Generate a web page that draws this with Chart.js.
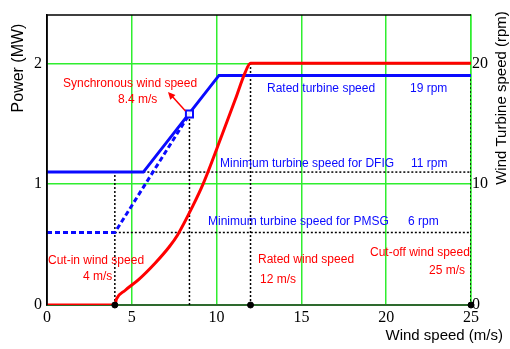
<!DOCTYPE html>
<html>
<head>
<meta charset="utf-8">
<script src="https://cdn.jsdelivr.net/npm/chart.js@4/dist/chart.umd.min.js"></script>
<style>
html,body{margin:0;padding:0;background:#fff;}
#wrap{width:510px;height:349px;position:relative;}
</style>
</head>
<body>
<div id="wrap"><canvas id="c" width="510" height="349"></canvas></div>
<script>
// ---- data ----
const xTicks = [0, 5, 10, 15, 20, 25];
const powerTicks = [0, 1, 2];
const rpmTicks = [0, 10, 20];

// Power curve (MW) vs wind speed (m/s)
const powerWind = [0, 4, 4.1, 4.6, 5.4, 6.4, 7.2, 7.7, 8.6, 9.2, 10.3, 11.1, 11.7, 12, 25];
const powerMW   = [0, 0, 0.05, 0.12, 0.21, 0.35, 0.48, 0.58, 0.82, 1.0, 1.40, 1.70, 1.93, 2.0, 2.0];

// DFIG turbine speed (rpm)
const dfigWind = [0, 5.68, 10.14, 25];
const dfigRpm  = [11, 11, 19, 19];

// PMSG turbine speed (rpm), dashed part
const pmsgWind = [0, 4, 8.4];
const pmsgRpm  = [6, 6, 15.8];

// Synchronous point
const syncWind = [8.4];
const syncRpm  = [15.8];

// Characteristic wind speeds (markers on the axis)
const keyWind = [4, 12, 25];
const keyPower = [0, 0, 0];

// Dotted guide lines
const guideCutInX = [4, 4],      guideCutInRpm = [0, 11];
const guideSyncX = [8.4, 8.4],   guideSyncRpm = [0, 15.8];
const guideRatedX = [12, 12],    guideRatedMW = [0, 2];
const guideCutOffX = [25, 25],   guideCutOffRpm = [0, 19];
const guideDfigX = [5.68, 25],   guideDfigRpm = [11, 11];
const guidePmsgX = [4, 25],      guidePmsgRpm = [6, 6];

const pts = (xs, ys) => xs.map((x, i) => ({x: x, y: ys[i]}));

const RED = '#ff0000', BLUE = '#0a0aff', GREEN = '#2fee2f', DKGREEN = '#2e6a2e';

function dotted(xs, ys, axis) {
  return {data: pts(xs, ys), yAxisID: axis, showLine: true, borderColor: '#000',
          borderWidth: 1.5, borderDash: [2, 2], pointRadius: 0, order: 6};
}

const annotate = {
  id: 'annotate',
  afterDatasetsDraw(chart) {
    const ctx = chart.ctx, a = chart.chartArea;
    ctx.save();
    // plot border top & left
    ctx.strokeStyle = '#000'; ctx.lineWidth = 1.5;
    ctx.beginPath();
    ctx.moveTo(a.left, a.bottom); ctx.lineTo(a.left, a.top); ctx.lineTo(a.right, a.top);
    ctx.stroke();

    // arrow from synchronous point to its label
    const xs = chart.scales.x, yr = chart.scales.y2;
    const px = xs.getPixelForValue(syncWind[0]), py = yr.getPixelForValue(syncRpm[0]);
    const sx = px - 4, sy = py - 3, ex = 168, ey = 92;
    ctx.strokeStyle = RED; ctx.fillStyle = RED; ctx.lineWidth = 1.5;
    ctx.beginPath(); ctx.moveTo(sx, sy); ctx.lineTo(ex + 3, ey + 3); ctx.stroke();
    const ang = Math.atan2(ey - sy, ex - sx), L = 8, W = 0.45;
    ctx.beginPath();
    ctx.moveTo(ex, ey);
    ctx.lineTo(ex - L * Math.cos(ang - W), ey - L * Math.sin(ang - W));
    ctx.lineTo(ex - L * Math.cos(ang + W), ey - L * Math.sin(ang + W));
    ctx.closePath(); ctx.fill();

    // annotation texts
    ctx.font = '12px "Liberation Sans", Arial, sans-serif';
    ctx.textBaseline = 'middle'; ctx.textAlign = 'left';
    const T = (s, x, y, c) => { ctx.fillStyle = c; ctx.fillText(s, x, y); };
    T('Synchronous wind speed', 63, 84, RED);
    T('8.4 m/s', 118, 100, RED);
    T('Rated turbine speed', 267, 89, BLUE);
    T('19 rpm', 410, 89, BLUE);
    T('Minimum turbine speed for DFIG', 220, 164, BLUE);
    T('11 rpm', 411, 164, BLUE);
    T('Minimum turbine speed for PMSG', 208, 222, BLUE);
    T('6 rpm', 408, 222, BLUE);
    T('Cut-in wind speed', 48, 261, RED);
    T('4 m/s', 83, 277, RED);
    T('Rated wind speed', 258, 260, RED);
    T('12 m/s', 260, 280, RED);
    T('Cut-off wind speed', 370, 253, RED);
    T('25 m/s', 429, 271, RED);

    // axis titles
    ctx.fillStyle = '#000';
    ctx.font = '16px "Liberation Sans", Arial, sans-serif';
    ctx.save(); ctx.translate(19, 68); ctx.rotate(-Math.PI / 2);
    ctx.textAlign = 'center'; ctx.fillText('Power (MW)', 0, 0); ctx.restore();
    ctx.font = '15px "Liberation Sans", Arial, sans-serif';
    ctx.save(); ctx.translate(502, 98); ctx.rotate(-Math.PI / 2);
    ctx.textAlign = 'center'; ctx.fillText('Wind Turbine speed (rpm)', 0, 0); ctx.restore();
    ctx.textAlign = 'right';
    ctx.fillText('Wind speed (m/s)', 503, 336);
    ctx.restore();
  }
};

new Chart(document.getElementById('c'), {
  type: 'scatter',
  data: {
    datasets: [
      {data: pts(keyWind, keyPower), yAxisID: 'y', pointRadius: 3, pointBackgroundColor: '#000',
       pointBorderColor: '#000', showLine: false, clip: false, order: 0},
      {data: pts(syncWind, syncRpm), yAxisID: 'y2', pointStyle: 'rect', pointRadius: 5,
       pointBorderWidth: 2, pointBorderColor: BLUE, pointBackgroundColor: 'rgba(255,255,255,0.9)', showLine: false, order: 0},
      {data: pts(powerWind, powerMW), yAxisID: 'y', showLine: true, borderColor: RED, borderWidth: 3,
       pointRadius: 0, cubicInterpolationMode: 'monotone', order: 1},
      {data: pts(dfigWind, dfigRpm), yAxisID: 'y2', showLine: true, borderColor: BLUE, borderWidth: 3,
       pointRadius: 0, order: 2},
      {data: pts(pmsgWind, pmsgRpm), yAxisID: 'y2', showLine: true, borderColor: BLUE, borderWidth: 3,
       borderDash: [5, 3], pointRadius: 0, order: 3},
      dotted(guideCutInX, guideCutInRpm, 'y2'),
      dotted(guideSyncX, guideSyncRpm, 'y2'),
      dotted(guideRatedX, guideRatedMW, 'y'),
      dotted(guideCutOffX, guideCutOffRpm, 'y2'),
      dotted(guideDfigX, guideDfigRpm, 'y2'),
      dotted(guidePmsgX, guidePmsgRpm, 'y2')
    ]
  },
  options: {
    responsive: false,
    animation: false,
    layout: {padding: {top: 15, left: 0, right: 0, bottom: 0}},
    plugins: {legend: {display: false}, tooltip: {enabled: false}},
    scales: {
      x: {
        type: 'linear', min: 0, max: 25,
        afterBuildTicks: s => { s.ticks = xTicks.map(v => ({value: v})); },
        afterFit: s => { s.height = 44; },
        ticks: {font: {family: '"Liberation Serif", "Times New Roman", serif', size: 16}, color: '#000', padding: 3, maxRotation: 0},
        grid: {color: c => c.tick && c.tick.value === 0 ? 'rgba(0,0,0,0)' : GREEN, lineWidth: 1.5, drawTicks: false},
        border: {color: DKGREEN, width: 2}
      },
      y: {
        type: 'linear', position: 'left', min: 0, max: 2.4,
        afterBuildTicks: s => { s.ticks = powerTicks.map(v => ({value: v})); },
        afterFit: s => { s.width = 47; },
        ticks: {font: {family: '"Liberation Serif", "Times New Roman", serif', size: 16}, color: '#000', padding: 5},
        grid: {color: c => c.tick && c.tick.value === 0 ? 'rgba(0,0,0,0)' : GREEN, lineWidth: 1.5, drawTicks: false},
        border: {color: '#000', width: 1.5}
      },
      y2: {
        type: 'linear', position: 'right', min: 0, max: 24,
        afterBuildTicks: s => { s.ticks = rpmTicks.map(v => ({value: v})); },
        afterFit: s => { s.width = 39; },
        ticks: {font: {family: '"Liberation Serif", "Times New Roman", serif', size: 16}, color: '#000', padding: 1},
        grid: {display: false, drawTicks: false},
        border: {color: GREEN, width: 1.5}
      }
    }
  },
  plugins: [annotate]
});
</script>
</body>
</html>
